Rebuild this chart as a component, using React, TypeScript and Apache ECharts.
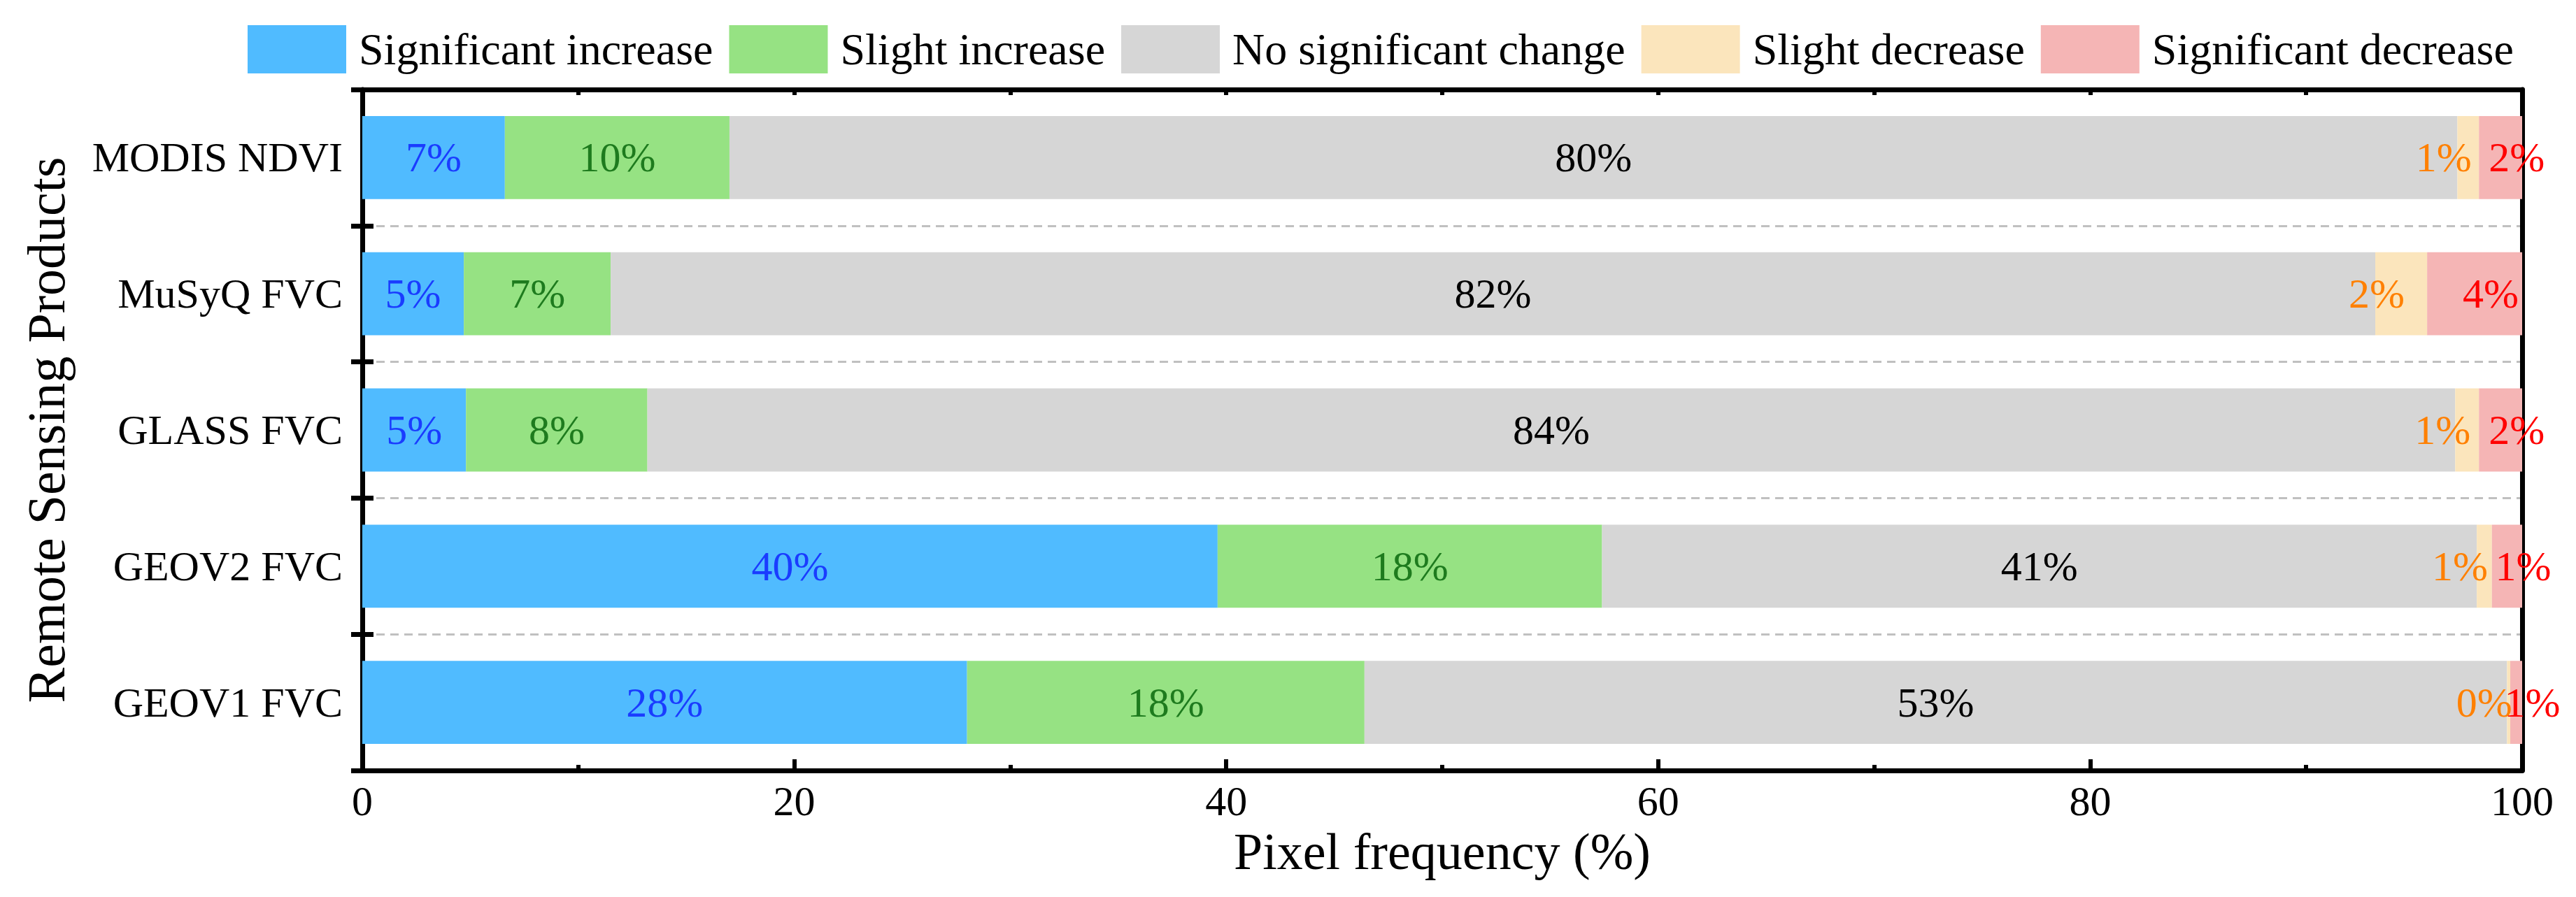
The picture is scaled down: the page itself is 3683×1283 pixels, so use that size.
import React, { useEffect, useRef } from "react";
import * as echarts from "echarts";

const categories = ["MODIS NDVI", "MuSyQ FVC", "GLASS FVC", "GEOV2 FVC", "GEOV1 FVC"];
const seriesNames = [
  "Significant increase",
  "Slight increase",
  "No significant change",
  "Slight decrease",
  "Significant decrease",
];
const sigInc = [6.6, 4.7, 4.8, 39.6, 28.0];
const sliInc = [10.4, 6.8, 8.4, 17.8, 18.4];
const noChange = [80.0, 81.7, 83.7, 40.5, 52.9];
const sliDec = [1.0, 2.4, 1.1, 0.7, 0.15];
const sigDec = [2.0, 4.4, 2.0, 1.4, 0.55];
const xTicks = [0, 20, 40, 60, 80, 100];

const barColors = ["#50BBFF", "#96E283", "#D6D6D6", "#FBE5BC", "#F5B5B5"];
const labelColors = ["#1A3CFF", "#1E7B1E", "#000000", "#FF8000", "#FF0000"];
const labelOffsets = [[0, 0], [0, 0], [0, 0], [-35, 0], [23, 0]];

const FONT = "'Liberation Serif', 'Times New Roman', serif";

export default function App() {
  const ref = useRef<HTMLDivElement>(null);
  useEffect(() => {
    if (!ref.current) return;
    const chart = echarts.init(ref.current, undefined, { renderer: "svg" });
    const values = [sigInc, sliInc, noChange, sliDec, sigDec];
    const option: any = {
      animation: false,
      backgroundColor: "#ffffff",
      textStyle: { fontFamily: FONT },
      legend: {
        left: 349,
        top: 31,
        itemWidth: 141,
        itemHeight: 69,
        itemGap: 23,
        icon: "rect",
        data: seriesNames,
        textStyle: {
          fontFamily: FONT,
          fontSize: 64,
          color: "#000",
          padding: [0, 0, 0, 13],
        },
      },
      grid: { left: 518, right: 77, top: 128, bottom: 181, containLabel: false },
      xAxis: [
        {
          type: "value",
          position: "bottom",
          min: 0,
          max: 100,
          interval: 20,
          name: "Pixel frequency (%)",
          nameLocation: "middle",
          nameGap: 78,
          nameTextStyle: { fontFamily: FONT, fontSize: 74, color: "#000" },
          axisLine: { show: true, lineStyle: { color: "#000", width: 7 } },
          axisTick: { show: true, inside: true, length: 16, lineStyle: { color: "#000", width: 6 } },
          minorTick: { show: true, splitNumber: 2, length: 8, lineStyle: { color: "#000", width: 6 } },
          axisLabel: {
            show: true,
            margin: 14,
            fontFamily: FONT,
            fontSize: 60,
            color: "#000",
            formatter: (v: number) => (xTicks.includes(v) ? String(v) : ""),
          },
          splitLine: { show: false },
        },
        {
          type: "value",
          position: "top",
          min: 0,
          max: 100,
          interval: 20,
          axisLine: { show: true, lineStyle: { color: "#000", width: 7 } },
          axisTick: { show: true, inside: true, length: 8, lineStyle: { color: "#000", width: 6 } },
          minorTick: { show: true, splitNumber: 2, length: 8, lineStyle: { color: "#000", width: 6 } },
          axisLabel: { show: false },
          splitLine: { show: false },
        },
      ],
      yAxis: [
        {
          type: "category",
          position: "left",
          inverse: true,
          data: categories,
          name: "Remote Sensing Products",
          nameLocation: "middle",
          nameGap: 414,
          nameRotate: 90,
          nameTextStyle: { fontFamily: FONT, fontSize: 76, color: "#000" },
          axisLine: { show: true, lineStyle: { color: "#000", width: 7 } },
          axisTick: { show: true, inside: false, length: 16, lineStyle: { color: "#000", width: 7 } },
          axisLabel: { show: true, margin: 28, fontFamily: FONT, fontSize: 60, color: "#000" },
          splitLine: {
            show: true,
            lineStyle: { color: "#C0C0C0", width: 3, type: [12, 8] },
          },
        },
        {
          type: "category",
          position: "left",
          inverse: true,
          data: categories,
          axisLine: { show: false },
          axisTick: { show: true, inside: true, length: 16, lineStyle: { color: "#000", width: 7 } },
          axisLabel: { show: false },
          splitLine: { show: false },
        },
        {
          type: "category",
          position: "right",
          inverse: true,
          data: categories,
          axisLine: { show: true, lineStyle: { color: "#000", width: 7 } },
          axisTick: { show: false },
          axisLabel: { show: false },
          splitLine: { show: false },
        },
      ],
      series: seriesNames.map((name, i) => ({
        name,
        type: "bar",
        stack: "total",
        xAxisIndex: 0,
        yAxisIndex: 0,
        barCategoryGap: "39%",
        data: values[i],
        itemStyle: { color: barColors[i] },
        label: {
          show: true,
          position: "inside",
          offset: labelOffsets[i],
          fontFamily: FONT,
          fontSize: 60,
          color: labelColors[i],
          formatter: (p: any) => Math.round(p.value) + "%",
        },
        z: 2,
      })),
    };
    chart.setOption(option);
    return () => chart.dispose();
  }, []);
  return (
    <div
      ref={ref}
      style={{ position: "fixed", left: 0, top: 0, width: 3683, height: 1283, background: "#fff" }}
    />
  );
}
